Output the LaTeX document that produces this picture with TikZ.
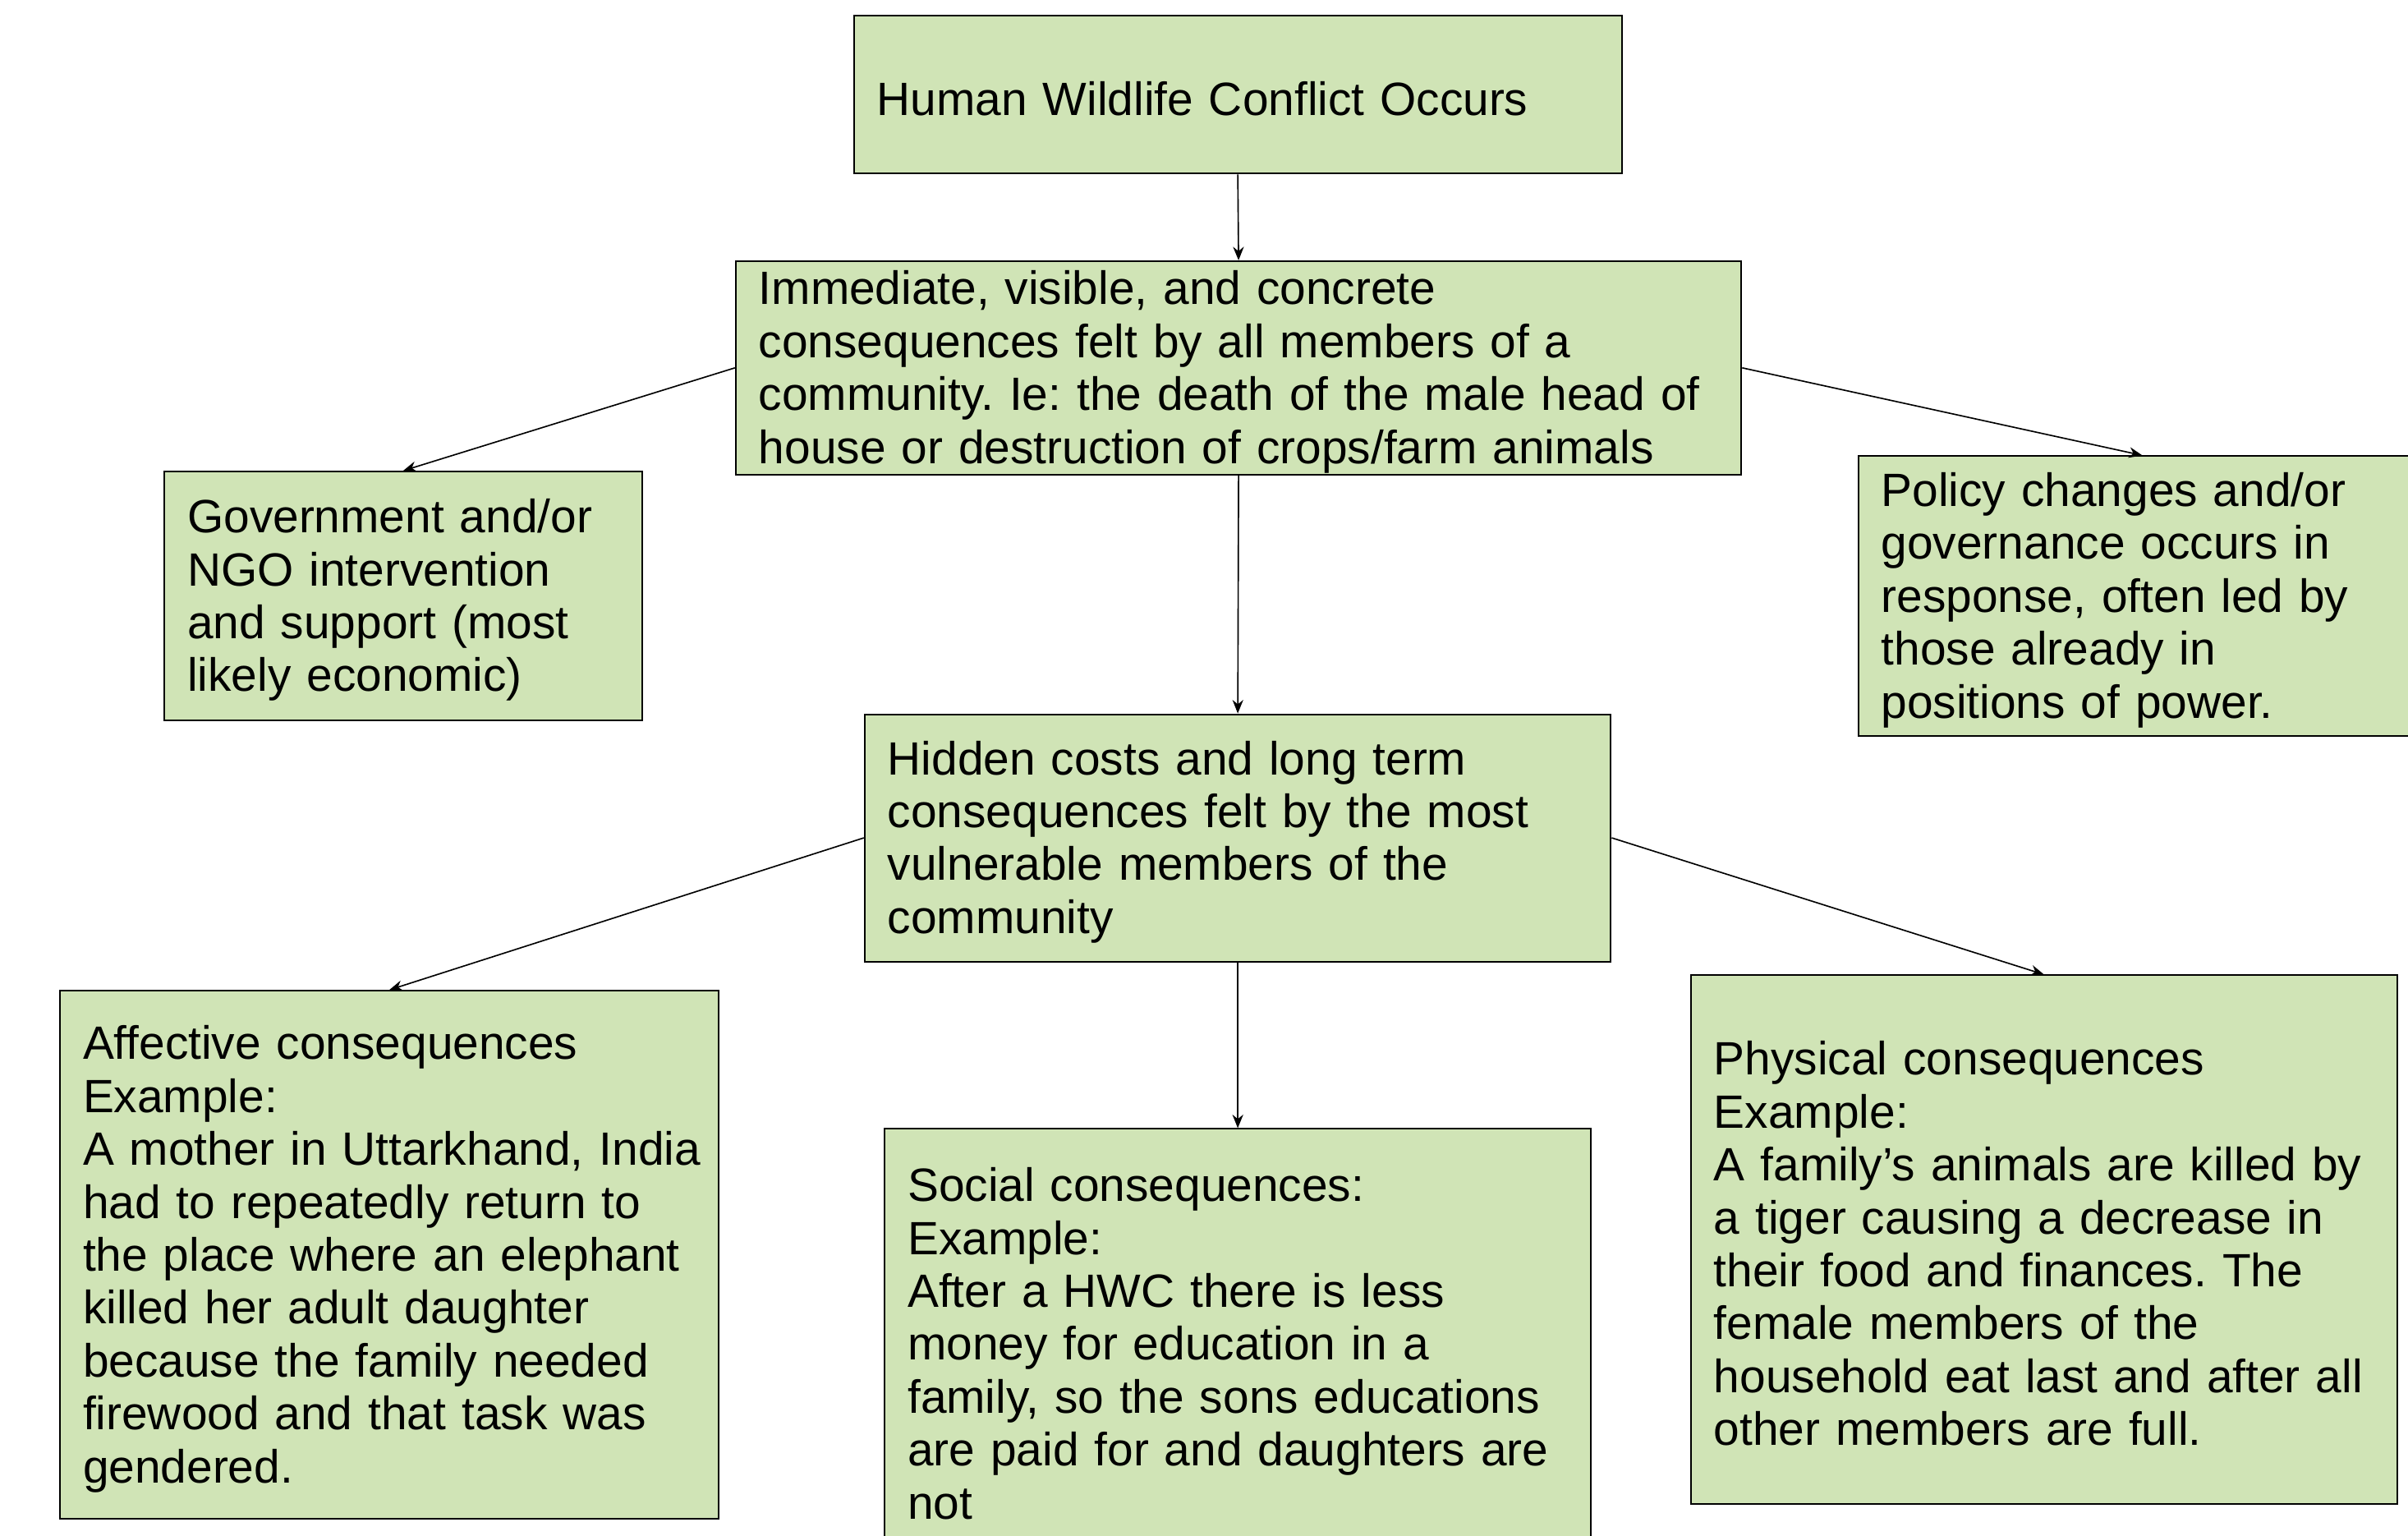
\documentclass[tikz,border=0pt]{standalone}
\usepackage{fontspec}
\setmainfont{Liberation Sans}
\usetikzlibrary{arrows.meta}
\frenchspacing

\definecolor{boxgreen}{RGB}{208,228,182}

\tikzset{
  box/.style={draw, fill=boxgreen, line width=0.6pt, align=left,
    inner xsep=0pt, inner ysep=0pt,
    font=\fontsize{17.3}{19.6}\selectfont,
    execute at begin node={\leftskip=0.3cm\rule{0pt}{15.6pt}}},
  link/.style={-{Stealth[length=5pt,width=4pt]}, line width=0.5pt}
}

\begin{document}
\begin{tikzpicture}[x=0.02cm, y=-0.02cm]

\useasboundingbox (0,0) rectangle (1568,1000);

% Top of the chart
\node[box, text width=10cm, minimum height=2.06cm] (hwc) at (806,61.5)
  {Human Wildlife Conflict Occurs};
\node[box, text width=13.1cm, minimum height=2.78cm] (immediate) at (806.5,239.5)
  {Immediate, visible, and concrete\\
   consequences felt by all members of a\\
   community. Ie: the death of the male head of\\
   house or destruction of crops/farm animals};

% Responses to the immediate consequences
\node[box, text width=6.22cm, minimum height=3.24cm] (ngo) at (262.5,388)
  {Government and/or\\
   NGO intervention\\
   and support (most\\
   likely economic)};
\node[box, text width=7.4cm, minimum height=3.64cm] (policy) at (1395,388)
  {Policy changes and/or\\
   governance occurs in\\
   response, often led by\\
   those already in\\
   positions of power.};

% Hidden costs
\node[box, text width=9.72cm, minimum height=3.22cm] (hidden) at (806,545.5)
  {Hidden costs and long term\\
   consequences felt by the most\\
   vulnerable members of the\\
   community};

% Kinds of hidden consequences
\node[box, text width=8.58cm, minimum height=6.88cm] (affective) at (253.5,817)
  {Affective consequences\\
   Example:\\
   A mother in Uttarkhand, India\\
   had to repeatedly return to\\
   the place where an elephant\\
   killed her adult daughter\\
   because the family needed\\
   firewood and that task was\\
   gendered.};
\node[box, text width=9.2cm, minimum height=5.48cm] (social) at (806,872)
  {Social consequences:\\
   Example:\\
   After a HWC there is less\\
   money for education in a\\
   family, so the sons educations\\
   are paid for and daughters are\\
   not};
\node[box, text width=9.2cm, minimum height=6.88cm] (physical) at (1331,807)
  {Physical consequences\\
   Example:\\
   A family's animals are killed by\\
   a tiger causing a decrease in\\
   their food and finances. The\\
   female members of the\\
   household eat last and after all\\
   other members are full.};

% Arrows
\draw[link] (hwc.south) -- (immediate.north);
\draw[link] (immediate.west) -- (ngo.north);
\draw[link] (immediate.east) -- (policy.north);
\draw[link] (immediate.south) -- (hidden.north);
\draw[link] (hidden.west) -- (affective.north);
\draw[link] (hidden.south) -- (social.north);
\draw[link] (hidden.east) -- (physical.north);

\end{tikzpicture}
\end{document}
